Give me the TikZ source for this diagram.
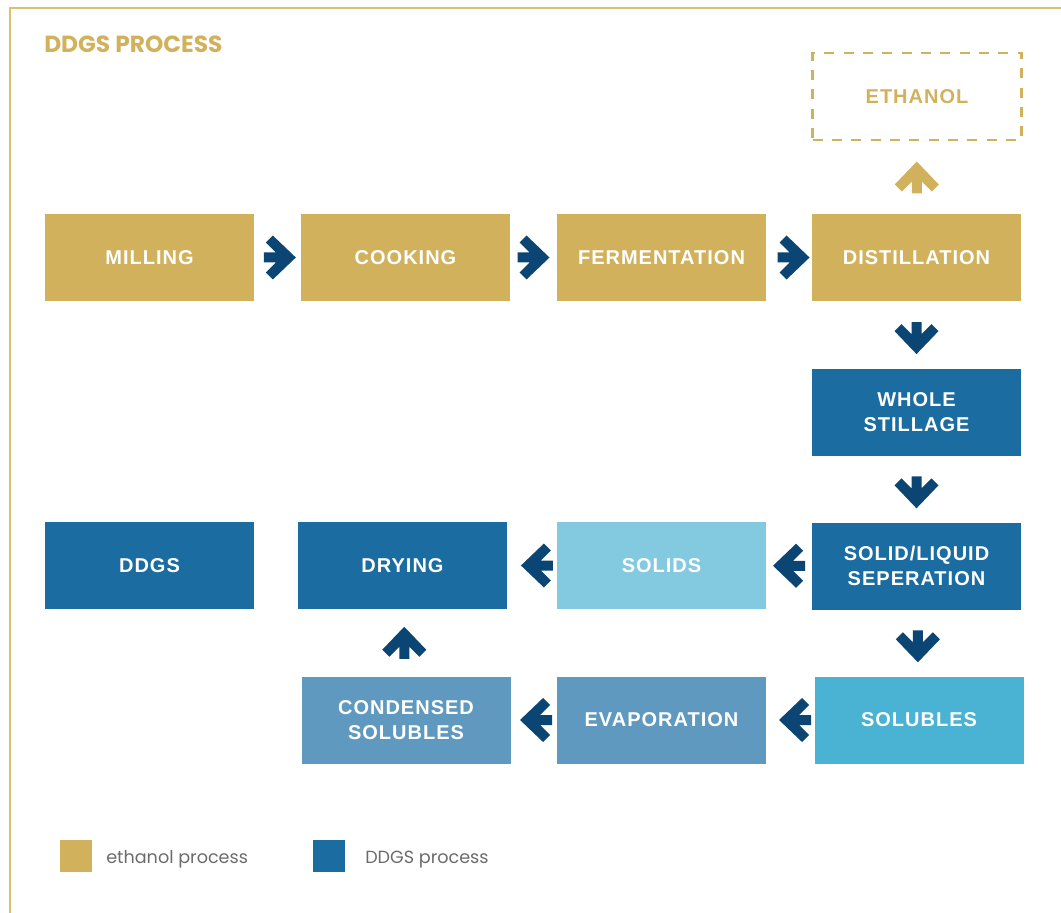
\documentclass[tikz,border=0pt]{standalone}
\usepackage{fontspec}
\usepackage{xcolor}
\usepackage{tikz}
\usetikzlibrary{calc}
\usetikzlibrary{positioning}

\newfontfamily\boxfont[LetterSpace=5]{Liberation Sans}
\newfontfamily\titlefont{Poppins}

\definecolor{ethanolgold}{HTML}{D1B15C}
\definecolor{framegold}{HTML}{DCBF6F}
\definecolor{ddgsblue}{HTML}{1B6CA1}
\definecolor{arrowblue}{HTML}{0B4573}
\definecolor{solidsblue}{HTML}{83C9E0}
\definecolor{solublesblue}{HTML}{4AB2D2}
\definecolor{evapblue}{HTML}{6099BF}
\definecolor{legendgray}{HTML}{6B6B6B}

\tikzset{
	stagebox/.style={rectangle,inner sep=0pt,minimum width=156.75pt,minimum height=65.25pt,
		align=center,text=white,font=\boxfont\bfseries\fontsize{15}{18.75}\selectfont},
	ethanolbox/.style={stagebox,fill=ethanolgold},
	ddgsbox/.style={stagebox,fill=ddgsblue},
	legendkey/.style={rectangle,inner sep=0pt,minimum size=24pt},
	legendtext/.style={anchor=base west,inner sep=0pt,text=legendgray,font=\titlefont\fontsize{13.2}{15}\selectfont}
}

% block arrow: [colour]{centre}{angle}
\newcommand{\flowarrow}[3][arrowblue]{%
	\fill[#1,shift={#2},rotate=#3] (16,0) -- (-7,22) -- (-14,15) -- (-4,5) -- (-16,5)
		-- (-16,-5) -- (-4,-5) -- (-14,-15) -- (-7,-22) -- cycle;}

\begin{document}
\begin{tikzpicture}[x=0.75pt,y=-0.75pt]
	\useasboundingbox (0,0) rectangle (1061,913);
	\draw[framegold,line width=1.9pt] (1061,8) -- (10,8) -- (10,913);
	\node[anchor=base west,inner sep=0pt,text=ethanolgold,font=\titlefont\bfseries\fontsize{17.5}{20}\selectfont] (Title) at (44,53) {DDGS PROCESS};

	% ethanol process
	\node[ethanolbox] (Milling) at (149.5,257.5) {MILLING};
	\node[ethanolbox] (Cooking) at (405.5,257.5) {COOKING};
	\node[ethanolbox] (Fermentation) at (661.5,257.5) {FERMENTATION};
	\node[ethanolbox] (Distillation) at (916.5,257.5) {DISTILLATION};
	\node[stagebox,draw=ethanolgold,line width=1.9pt,dash pattern=on 7.5pt off 7pt,text=ethanolgold] (Ethanol) at (917,96.5) {ETHANOL};

	% ddgs process
	\node[ddgsbox] (WholeStillage) at (916.5,412) {WHOLE\\STILLAGE};
	\node[ddgsbox] (Separation) at (916.5,566) {SOLID/LIQUID\\SEPERATION};
	\node[stagebox,fill=solidsblue] (Solids) at (661.5,565.5) {SOLIDS};
	\node[ddgsbox] (Drying) at (402.5,565.5) {DRYING};
	\node[ddgsbox] (DDGS) at (149.5,565.5) {DDGS};
	\node[stagebox,fill=solublesblue] (Solubles) at (919,720) {SOLUBLES};
	\node[stagebox,fill=evapblue] (Evaporation) at (661.5,720) {EVAPORATION};
	\node[stagebox,fill=evapblue] (Condensed) at (406,720) {CONDENSED\\SOLUBLES};

	\flowarrow{($(Milling.east)!.55!(Cooking.west)$)}{0}
	\flowarrow{($(Cooking.east)!.5!(Fermentation.west)$)}{0}
	\flowarrow{($(Fermentation.east)!.6!(Distillation.west)$)}{0}
	\flowarrow[ethanolgold]{($(Distillation.north)!.5!(Ethanol.south)$)}{90}
	\flowarrow{($(Distillation.south)!.55!(WholeStillage.north)$)}{-90}
	\flowarrow{($(WholeStillage.south)!.55!(Separation.north)$)}{-90}
	\flowarrow{($(Separation.west)!.5!(Solids.east)$)}{180}
	\flowarrow{($(Solids.west)!.4!(Drying.east)$)}{180}
	\flowarrow{($(Separation.south)!.55!(Solubles.north)$)}{-90}
	\flowarrow{($(Solubles.west)!.4!(Evaporation.east)$)}{180}
	\flowarrow{($(Evaporation.west)!.45!(Condensed.east)$)}{180}
	\flowarrow{($(Condensed.north)!.5!(Drying.south)$)}{90}

	% legend
	\node[legendkey,fill=ethanolgold] (KeyEthanol) at (76,856) {};
	\node[legendtext] (TextEthanol) at (106,863) {ethanol process};
	\node[legendkey,fill=ddgsblue] (KeyDDGS) at (329,856) {};
	\node[legendtext] (TextDDGS) at (365,863) {DDGS process};
\end{tikzpicture}
\end{document}
